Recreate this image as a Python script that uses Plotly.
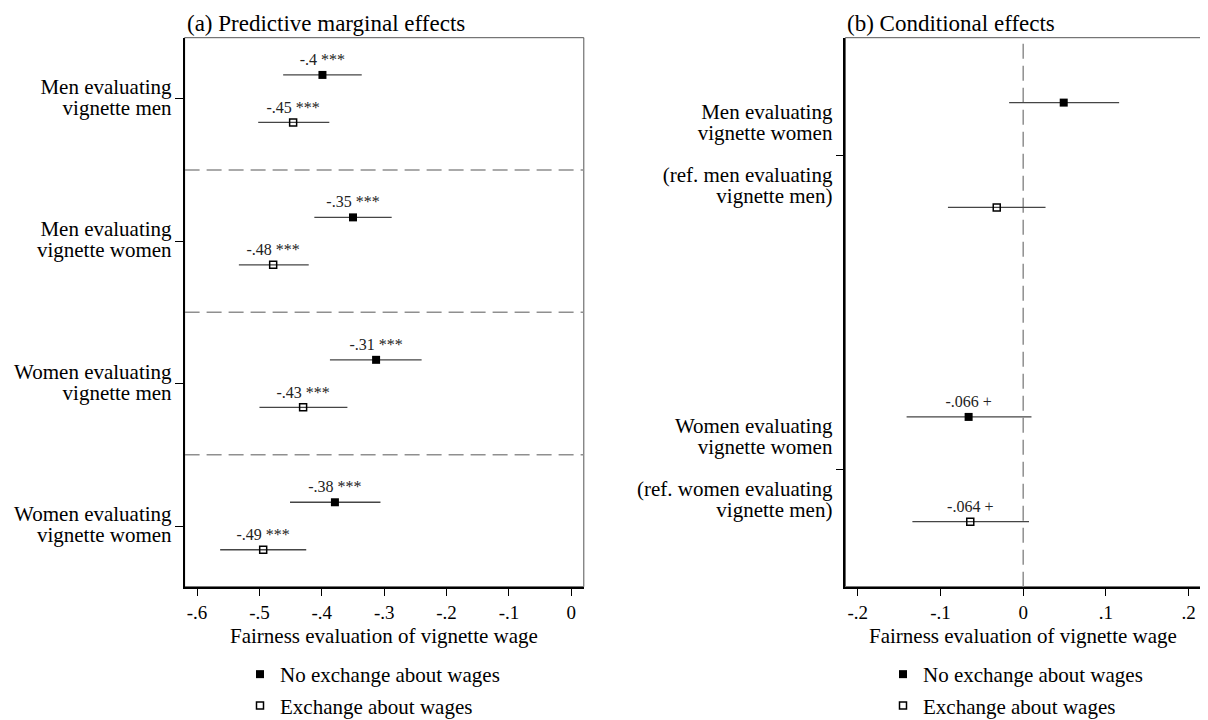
import plotly.graph_objects as go

# ---------------- data ----------------
cats_a = ["Men evaluating\nvignette men",
          "Men evaluating\nvignette women",
          "Women evaluating\nvignette men",
          "Women evaluating\nvignette women"]
est_no_a = [-0.399, -0.350, -0.313, -0.379]
lo_no_a = [-0.462, -0.412, -0.387, -0.451]
hi_no_a = [-0.336, -0.288, -0.240, -0.306]
lab_no_a = ["-.4 ***", "-.35 ***", "-.31 ***", "-.38 ***"]
est_ex_a = [-0.446, -0.478, -0.430, -0.494]
lo_ex_a = [-0.502, -0.533, -0.500, -0.563]
hi_ex_a = [-0.388, -0.421, -0.359, -0.425]
lab_ex_a = ["-.45 ***", "-.48 ***", "-.43 ***", "-.49 ***"]

cats_b = ["Men evaluating\nvignette women\n\n(ref. men evaluating\nvignette men)",
          "Women evaluating\nvignette women\n\n(ref. women evaluating\nvignette men)"]
est_no_b = [0.049, -0.066]
lo_no_b = [-0.017, -0.141]
hi_no_b = [0.116, 0.010]
lab_no_b = ["", "-.066 +"]
est_ex_b = [-0.032, -0.064]
lo_ex_b = [-0.091, -0.134]
hi_ex_b = [0.027, 0.007]
lab_ex_b = ["", "-.064 +"]

xt_a = [-0.6, -0.5, -0.4, -0.3, -0.2, -0.1, 0]
xt_a_text = ["-.6", "-.5", "-.4", "-.3", "-.2", "-.1", "0"]
xt_b = [-0.2, -0.1, 0, 0.1, 0.2]
xt_b_text = ["-.2", "-.1", "0", ".1", ".2"]

series_names = ["No exchange about wages", "Exchange about wages"]
titles = ["(a) Predictive marginal effects", "(b) Conditional effects"]
xtitle = "Fairness evaluation of vignette wage"

# ---------------- style ----------------
FONT = "Liberation Serif"
PAGE_MARGIN = 8          # default body margin of the html page
W, H = 1208 - PAGE_MARGIN, 720 - PAGE_MARGIN
OFF = 1 / 6
EB_COLOR = "#454545"
DASH_COLOR = "#8f8f8f"


def big(s, size=21):
    return "<br>".join(
        (f'<span style="font-size:{size}px">{ln}</span>' if ln else "")
        for ln in s.split("\n"))


def px_x(p):
    return (p - PAGE_MARGIN) / W


def px_y(p):
    return 1 - (p - PAGE_MARGIN) / H


fig = go.Figure()


def add_series(est, lo, hi, labels, pos, filled, xa, ya, legend, name):
    ys = [p + (-OFF if filled else OFF) for p in pos]
    fig.add_trace(go.Scatter(
        x=est, y=ys, xaxis=xa, yaxis=ya,
        mode="markers+text", text=labels, textposition="top center",
        textfont=dict(family=FONT, size=16, color="#222222"),
        marker=dict(symbol="square" if filled else "square-open", size=8 if filled else 7,
                    color="black", line=dict(color="black", width=0 if filled else 1.5)),
        error_x=dict(type="data", symmetric=False,
                     array=[h - e for h, e in zip(hi, est)],
                     arrayminus=[e - l for e, l in zip(est, lo)],
                     color=EB_COLOR, thickness=1.3, width=0),
        name=name, legend=legend, legendgroup=legend + name, showlegend=True,
        hoverinfo="skip", cliponaxis=False))


pos_a = list(range(1, len(cats_a) + 1))
pos_b = list(range(1, len(cats_b) + 1))
add_series(est_no_a, lo_no_a, hi_no_a, lab_no_a, pos_a, True, "x", "y", "legend", series_names[0])
add_series(est_ex_a, lo_ex_a, hi_ex_a, lab_ex_a, pos_a, False, "x", "y", "legend", series_names[1])
add_series(est_no_b, lo_no_b, hi_no_b, lab_no_b, pos_b, True, "x2", "y2", "legend2", series_names[0])
add_series(est_ex_b, lo_ex_b, hi_ex_b, lab_ex_b, pos_b, False, "x2", "y2", "legend2", series_names[1])

dom_y = [px_y(586.7), px_y(37.7)]
dom_a = [px_x(184.6), px_x(583.8)]
dom_b = [px_x(845.4), px_x(1201)]

axis_common = dict(showgrid=False, zeroline=False, showline=True, linecolor="black",
                   linewidth=1.5, ticks="outside", ticklen=8, tickwidth=1.2,
                   tickcolor="black", fixedrange=True)

legend_common = dict(xref="container", yref="container", xanchor="left", yanchor="top",
                     font=dict(family=FONT, size=21), bgcolor="rgba(0,0,0,0)",
                     traceorder="grouped", tracegroupgap=1)

fig.update_layout(
    width=W, height=H, autosize=False,
    margin=dict(l=0, r=0, t=0, b=0, autoexpand=False),
    paper_bgcolor="white", plot_bgcolor="white",
    font=dict(family=FONT, color="black"),
    xaxis=dict(domain=dom_a, anchor="y", range=[-0.62, 0.02], tickvals=xt_a, ticktext=xt_a_text,
               tickfont=dict(family=FONT, size=19), **axis_common),
    yaxis=dict(domain=dom_y, anchor="x", range=[4.426, 0.572], tickvals=pos_a,
               ticktext=[big(c) for c in cats_a], tickfont=dict(family=FONT, size=16.2),
               **axis_common),
    xaxis2=dict(domain=dom_b, anchor="y2", range=[-0.215, 0.215], tickvals=xt_b, ticktext=xt_b_text,
                tickfont=dict(family=FONT, size=19), **axis_common),
    yaxis2=dict(domain=dom_y, anchor="x2", range=[2.3735, 0.6268], tickvals=pos_b,
                ticktext=[big(c) for c in cats_b], tickfont=dict(family=FONT, size=16.2),
                **axis_common),
    legend=dict(x=px_x(240), y=px_y(654), **legend_common),
    legend2=dict(x=px_x(883), y=px_y(654), **legend_common),
)

shapes = []
for xr, yr in (("x domain", "y domain"), ("x2 domain", "y2 domain")):
    shapes.append(dict(type="rect", xref=xr, yref=yr, x0=0, x1=1, y0=0, y1=1,
                       line=dict(color="#555555", width=1), layer="below"))
for b in [p + 0.5 for p in pos_a[:-1]]:
    shapes.append(dict(type="line", xref="x domain", yref="y", x0=0, x1=1, y0=b, y1=b,
                       line=dict(color=DASH_COLOR, width=1.5, dash="15px,7px"), layer="below"))
shapes.append(dict(type="line", xref="x2", yref="y2 domain", x0=0, x1=0, y0=0, y1=1,
                   line=dict(color=DASH_COLOR, width=1.5, dash="15px,7px"), layer="below"))
fig.update_layout(shapes=shapes)

annotations = [
    dict(text=titles[0], xref="paper", yref="paper", x=dom_a[0], y=px_y(23),
         xanchor="left", yanchor="middle", showarrow=False, font=dict(family=FONT, size=23)),
    dict(text=titles[1], xref="paper", yref="paper", x=dom_b[0], y=px_y(23),
         xanchor="left", yanchor="middle", showarrow=False, font=dict(family=FONT, size=23)),
    dict(text=xtitle, xref="paper", yref="paper", x=sum(dom_a) / 2, y=px_y(636),
         xanchor="center", yanchor="middle", showarrow=False, font=dict(family=FONT, size=21)),
    dict(text=xtitle, xref="paper", yref="paper", x=sum(dom_b) / 2, y=px_y(636),
         xanchor="center", yanchor="middle", showarrow=False, font=dict(family=FONT, size=21)),
]
fig.update_layout(annotations=annotations)

fig.write_html("out.html")
